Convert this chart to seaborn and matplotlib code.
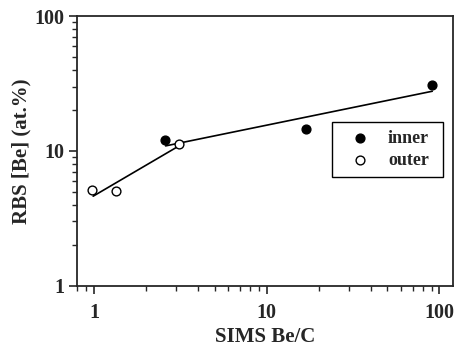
import matplotlib
matplotlib.use("Agg")
import matplotlib.pyplot as plt
import seaborn as sns
from matplotlib.ticker import LogLocator, NullFormatter, FixedFormatter, FixedLocator

# data
inner_x = [2.57, 16.8, 90.9]
inner_y = [12.0, 14.5, 31.0]
outer_x = [0.97, 1.35, 3.09]
outer_y = [5.17, 5.05, 11.3]

# fitted lines
fit_low_x = [0.99, 3.07]
fit_low_y = [4.62, 10.8]
fit_high_x = [2.6, 90.9]
fit_high_y = [10.9, 27.7]

x_ticks = [1, 10, 100]
x_tick_labels = ["1", "10", "100"]
y_ticks = [1, 10, 100]
y_tick_labels = ["1", "10", "100"]

sns.set_style("ticks")
plt.rcParams["font.family"] = ["Liberation Serif", "DejaVu Serif"]
plt.rcParams["font.weight"] = "bold"

fig = plt.figure(figsize=(4.54, 3.56), dpi=100)
ax = fig.add_axes([0.170, 0.197, 0.828, 0.758])

sns.lineplot(x=fit_low_x, y=fit_low_y, color="black", lw=1.2, ax=ax, sort=False)
sns.lineplot(x=fit_high_x, y=fit_high_y, color="black", lw=1.2, ax=ax, sort=False)
sns.scatterplot(x=inner_x, y=inner_y, color="black", edgecolor="black", s=40,
                linewidth=1, ax=ax, label="inner", zorder=3)
sns.scatterplot(x=outer_x, y=outer_y, color="white", edgecolor="black", s=40,
                linewidth=1, ax=ax, label="outer", zorder=3)

ax.set_xscale("log")
ax.set_yscale("log")
ax.set_xlim(0.8, 120)
ax.set_ylim(1, 100)

ax.xaxis.set_major_locator(FixedLocator(x_ticks))
ax.xaxis.set_major_formatter(FixedFormatter(x_tick_labels))
ax.yaxis.set_major_locator(FixedLocator(y_ticks))
ax.yaxis.set_major_formatter(FixedFormatter(y_tick_labels))
ax.xaxis.set_minor_locator(LogLocator(base=10, subs=range(2, 10)))
ax.yaxis.set_minor_locator(LogLocator(base=10, subs=range(2, 10)))
ax.xaxis.set_minor_formatter(NullFormatter())
ax.yaxis.set_minor_formatter(NullFormatter())

ax.tick_params(which="major", length=6, width=1.2, labelsize=14.5, direction="out")
ax.tick_params(axis="x", which="major", pad=6)
ax.tick_params(axis="y", which="major", pad=3)
ax.tick_params(which="minor", length=3.5, width=1, direction="out")
ax.tick_params(top=False, right=False, which="both")
for s in ax.spines.values():
    s.set_linewidth(1.3)
    s.set_visible(True)

ax.set_xlabel("SIMS Be/C", fontsize=15, fontweight="bold", labelpad=3)
ax.set_ylabel("RBS [Be] (at.%)", fontsize=15, fontweight="bold", labelpad=2)

leg = ax.legend(loc="upper left", bbox_to_anchor=(0.678, 0.607, 0.295, 0),
                mode="expand", frameon=True, fancybox=False, fontsize=13,
                handletextpad=0.45, borderpad=0.45, labelspacing=0.25,
                handlelength=2.2, borderaxespad=0)
leg.get_frame().set_edgecolor("black")
leg.get_frame().set_linewidth(1)
leg.get_frame().set_alpha(1)
for t in leg.get_texts():
    t.set_fontweight("bold")

fig.savefig("out.png", dpi=100)
